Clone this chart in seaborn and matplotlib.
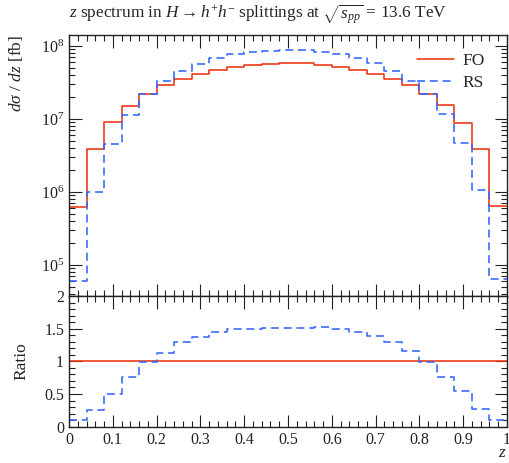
import numpy as np
import matplotlib
matplotlib.use("Agg")
import matplotlib.pyplot as plt
import matplotlib.ticker as mticker
import seaborn as sns

sns.set_style("ticks")
plt.rcParams['font.family'] = ['Liberation Serif', 'DejaVu Serif']
plt.rcParams['mathtext.fontset'] = 'custom'
plt.rcParams['mathtext.rm'] = 'Liberation Serif'
plt.rcParams['mathtext.it'] = 'Liberation Serif:italic'
plt.rcParams['mathtext.bf'] = 'Liberation Serif:bold'

# ---- data ----
z_edges = [0.00, 0.04, 0.08, 0.12, 0.16, 0.20, 0.24, 0.28, 0.32, 0.36, 0.40, 0.44, 0.48,
           0.52, 0.56, 0.60, 0.64, 0.68, 0.72, 0.76, 0.80, 0.84, 0.88, 0.92, 0.96, 1.00]
fo_vals = [6.3e5, 3.85e6, 9.0e6, 1.52e7, 2.22e7, 2.93e7, 3.50e7, 4.18e7, 4.69e7, 5.2e7,
           5.54e7, 5.72e7, 5.8e7, 5.8e7, 5.5e7, 5.2e7, 4.69e7, 4.2e7, 3.57e7, 2.9e7,
           2.2e7, 1.54e7, 8.7e6, 3.9e6, 6.5e5]
rs_vals = [6.0e4, 1.0e6, 4.5e6, 1.15e7, 2.2e7, 3.3e7, 4.55e7, 5.75e7, 6.77e7, 7.74e7,
           8.26e7, 8.6e7, 8.8e7, 8.8e7, 8.36e7, 7.76e7, 6.78e7, 5.85e7, 4.6e7, 3.35e7,
           2.18e7, 1.17e7, 4.7e6, 1.05e6, 6.4e4]
series_names = ["FO", "RS"]
x_tick_labels = ["0", "0.1", "0.2", "0.3", "0.4", "0.5", "0.6", "0.7", "0.8", "0.9", "1"]
ratio_ticks = [0, 0.5, 1, 1.5, 2]
ratio_tick_labels = ["0", "0.5", "1", "1.5", "2"]

c_fo = "#EE3311"
c_rs = "#3366FF"

edges = np.array(z_edges)
fo = np.array(fo_vals)
rs = np.array(rs_vals)
fo_step = np.append(fo, fo[-1])
rs_step = np.append(rs, rs[-1])
ratio_fo = np.append(fo / fo, 1.0)
r = rs / fo
ratio_rs = np.append(r, r[-1])

fig = plt.figure(figsize=(5.10, 4.63), dpi=100)
L, W = 69 / 510, 438 / 510
ax1 = fig.add_axes([L, 1 - 296 / 463, W, (296 - 35) / 463])
ax2 = fig.add_axes([L, 1 - 426.7 / 463, W, (426.7 - 296) / 463])

lw = 1.15
ax1.set_yscale('log')
sns.lineplot(x=edges, y=fo_step, drawstyle='steps-post', ax=ax1, color=c_fo, lw=lw,
             label=series_names[0])
sns.lineplot(x=edges, y=rs_step, drawstyle='steps-post', ax=ax1, color=c_rs, lw=lw,
             linestyle=(0, (5, 3)), label=series_names[1])
sns.lineplot(x=edges, y=ratio_fo, drawstyle='steps-post', ax=ax2, color=c_fo, lw=lw)
sns.lineplot(x=edges, y=ratio_rs, drawstyle='steps-post', ax=ax2, color=c_rs, lw=lw,
             linestyle=(0, (5, 3)))

ax1.set_xlim(0, 1)
ax1.set_ylim(10 ** 4.575, 10 ** 8.151)
ax2.set_xlim(0, 1)
ax2.set_ylim(0, 2)

for ax in (ax1, ax2):
    ax.xaxis.set_major_locator(mticker.MultipleLocator(0.1))
    ax.xaxis.set_minor_locator(mticker.MultipleLocator(0.02))
    ax.tick_params(which='both', direction='in', top=True, right=True, width=0.8,
                   colors='#222222', labelsize=11.5)
    ax.tick_params(which='major', length=9)
    ax.tick_params(which='minor', length=4.5)
    for s in ax.spines.values():
        s.set_linewidth(1.0)
        s.set_color('#222222')

ax1.yaxis.set_major_locator(mticker.LogLocator(base=10, numticks=10))
ax1.yaxis.set_minor_locator(mticker.LogLocator(base=10, subs=np.arange(2, 10), numticks=20))
ax1.yaxis.set_minor_formatter(mticker.NullFormatter())
ax1.tick_params(labelbottom=False)
ax1.set_xlabel("")

ax2.yaxis.set_minor_locator(mticker.MultipleLocator(0.1))
ax2.set_yticks(ratio_ticks)
ax2.set_yticklabels(ratio_tick_labels)
ax2.set_xticks(np.linspace(0, 1, len(x_tick_labels)))
ax2.set_xticklabels(x_tick_labels)

ax1.set_ylabel(r"$d\sigma\ /\ dz$ [fb]", fontsize=12.5, loc='top')
ax1.yaxis.set_label_coords(-0.10, 1.0)
ax2.set_ylabel("Ratio", fontsize=12.5)
ax2.yaxis.set_label_coords(-0.09, 0.5)
ax2.set_xlabel("$z$", fontsize=12.5, loc='right')
ax2.xaxis.set_label_coords(1.0, -0.14)

fig.text(L, 1 - 14 / 463,
         r"$z$ spectrum in $H \rightarrow h^{+}h^{-}$ splittings at $\sqrt{s_{pp}}$ = 13.6 TeV",
         ha='left', va='center', fontsize=12.4)

ax1.legend(loc='upper right', bbox_to_anchor=((485 - 69) / 438, 0.93), frameon=False,
           fontsize=12.5, handlelength=2.1, handletextpad=0.5, borderpad=0,
           borderaxespad=0, labelspacing=0.3)

fig.savefig("out.png", dpi=100)
